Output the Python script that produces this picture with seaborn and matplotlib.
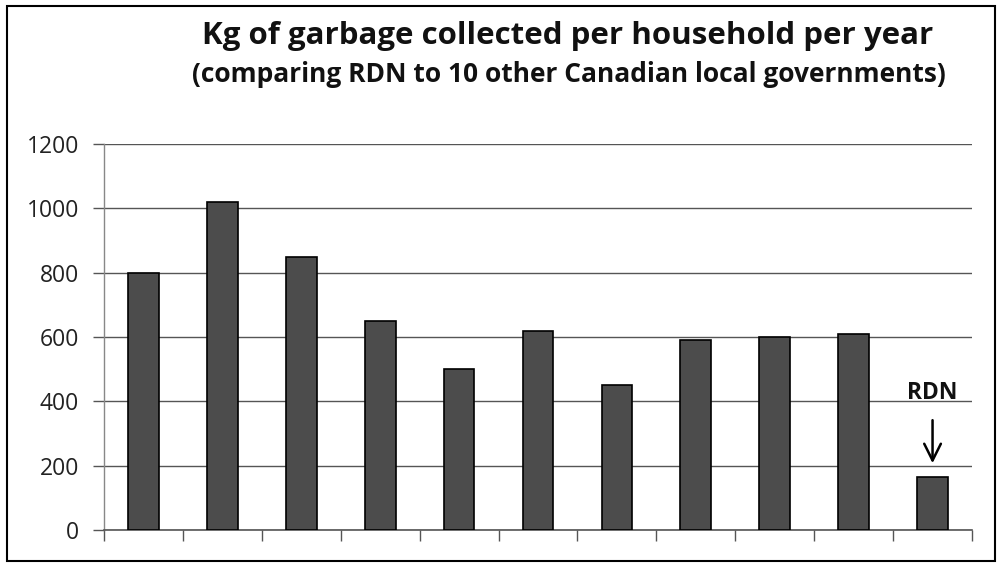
import matplotlib
matplotlib.use("Agg")
import matplotlib.pyplot as plt
import matplotlib.patches as mpatches
import seaborn as sns
import pandas as pd
import numpy as np

# Data
categories = ["Gov 1", "Gov 2", "Gov 3", "Gov 4", "Gov 5", "Gov 6",
              "Gov 7", "Gov 8", "Gov 9", "Gov 10", "RDN"]
values = [800, 1020, 850, 650, 500, 620, 450, 590, 600, 610, 165]
yticks = [0, 200, 400, 600, 800, 1000, 1200]
title = "Kg of garbage collected per household per year"
subtitle = "(comparing RDN to 10 other Canadian local governments)"
callout = "RDN"

sns.set_theme(style="white")
plt.rcParams['font.family'] = ['Open Sans', 'DejaVu Sans']

df = pd.DataFrame({"gov": categories, "kg": values})

fig = plt.figure(figsize=(10.02, 5.65), dpi=100)
ax = fig.add_axes([104/1002, 1-530/565, (972-104)/1002, (530-144)/565])

sns.barplot(data=df, x="gov", y="kg", ax=ax, color="#4c4c4c",
            edgecolor="black", linewidth=1.2, width=0.39, saturation=1, zorder=3)

ax.set_ylim(0, 1200)
ax.set_xlim(-0.5, len(categories) - 0.5)
ax.set_yticks(yticks)
ax.set_yticklabels([str(t) for t in yticks], fontsize=16.5, color="#222222")
ax.set_xticks(np.arange(-0.5, len(categories), 1.0))
ax.set_xticklabels([""] * (len(categories) + 1))
ax.set_xlabel("")
ax.set_ylabel("")
ax.tick_params(axis="x", direction="out", length=8, width=1, color="#555555", bottom=True)
ax.tick_params(axis="y", direction="out", length=8, width=1, color="#555555", left=True, pad=10)

ax.grid(axis="y", color="#555555", linewidth=1.0, zorder=0)
ax.set_axisbelow(True)
for s in ["top", "right"]:
    ax.spines[s].set_visible(False)
ax.spines["left"].set_color("#888888")
ax.spines["left"].set_linewidth(1.0)
ax.spines["bottom"].set_color("#555555")
ax.spines["bottom"].set_linewidth(1.2)

# RDN callout
rdn_x = len(categories) - 1
ax.text(rdn_x, 408, callout, ha="center", va="baseline", fontsize=16.5,
        fontweight="bold", color="#111111")
ax.annotate("", xy=(rdn_x, 199), xytext=(rdn_x, 350),
            arrowprops=dict(arrowstyle="->", color="black", lw=1.8,
                            mutation_scale=30))

# Titles
fig.text(568/1002, 1-44/565, title, ha="center", va="baseline",
         fontsize=22.5, fontweight="bold", color="#111111")
fig.text(569/1002, 1-82/565, subtitle, ha="center", va="baseline",
         fontsize=19, fontweight="bold", color="#111111")

# Outer frame
fig.patches.append(mpatches.Rectangle((7/1002, 1-561/565), (995-7)/1002, (561-6)/565,
                                      transform=fig.transFigure, fill=False,
                                      edgecolor="black", linewidth=1.5))

fig.savefig("out.png", dpi=100)
